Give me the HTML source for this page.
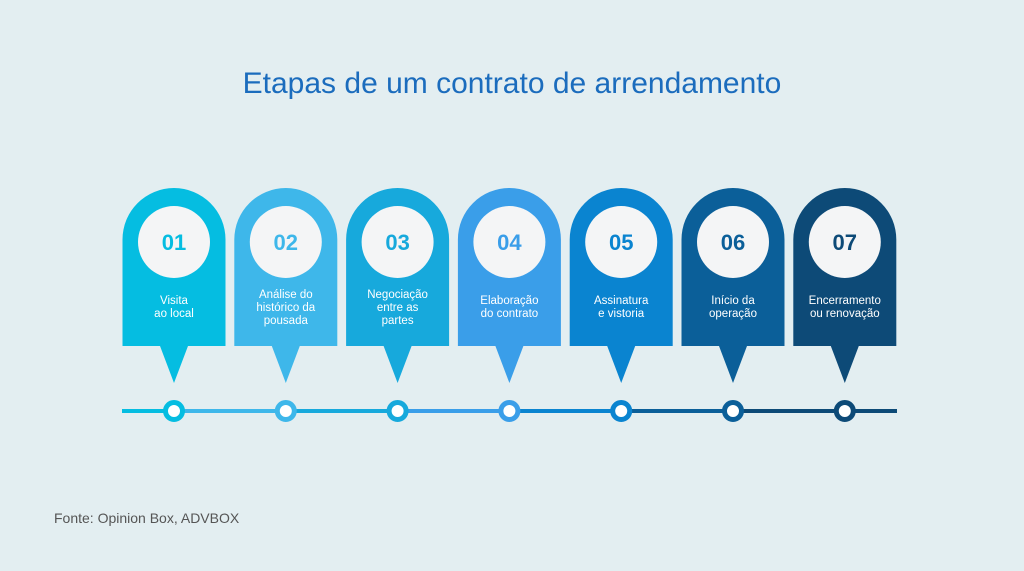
<!DOCTYPE html>
<html><head><meta charset="utf-8"><style>
html,body{margin:0;padding:0;background:#e3eef1;}
body{width:1024px;height:566px;overflow:hidden;font-family:"Liberation Sans",sans-serif;}
</style></head><body>
<svg id="s" width="1024" height="566" viewBox="0 0 1024 566" xmlns="http://www.w3.org/2000/svg">
<rect width="1024" height="566" fill="#e3eef1"/>
<text x="512" y="93" text-anchor="middle" font-size="30" fill="#1b6cbd" font-family="Liberation Sans, sans-serif">Etapas de um contrato de arrendamento</text>
<g id="tl"></g>
<g id="nodes"></g>
<g id="pins"></g>
<text x="54" y="523" font-size="14" fill="#555">Fonte: Opinion Box, ADVBOX</text>
</svg>
<script>
const steps=["01","02","03","04","05","06","07"];
const labels=[["Visita","ao local"],["Análise do","histórico da","pousada"],["Negociação","entre as","partes"],["Elaboração","do contrato"],["Assinatura","e vistoria"],["Início da","operação"],["Encerramento","ou renovação"]];
const colors=["#05bde1","#3eb7ea","#17a9dc","#3a9ee9","#0a84d0","#0b5f99","#0d4a77"];
const NS="http://www.w3.org/2000/svg";
const x0=174,dx=111.8,pinW=103,pinTop=188,pinBot=346,pinTip=383,ly=411;
function mk(t,a,p){const e=document.createElementNS(NS,t);for(const k in a)e.setAttribute(k,a[k]);p.appendChild(e);return e;}
const tl=document.getElementById('tl'),pins=document.getElementById('pins'),nodes=document.getElementById('nodes');
steps.forEach((s,i)=>{
  const cx=x0+i*dx,c=colors[i];
  const xs=i===0?122:cx-dx;
  const seg=mk('line',{x1:xs,y1:ly,x2:cx,y2:ly,stroke:c,'stroke-width':4},tl);
  
  
  if(i===steps.length-1){
    const seg2=mk('line',{x1:cx,y1:ly,x2:897,y2:ly,stroke:c,'stroke-width':4},tl);
    
    
  }
  const g=mk('g',{},pins);
  
  
  const r=pinW/2,l=cx-r,rt=cx+r;
  const p=mk('path',{d:`M${l},${pinBot} L${l},${pinTop+r} A${r},${r} 0 0 1 ${rt},${pinTop+r} L${rt},${pinBot} L${cx+14},${pinBot} L${cx},${pinTip} L${cx-14},${pinBot} Z`,fill:c},g);
  
  
  const ci=mk('circle',{cx:cx,cy:242,r:36,fill:'#f4f5f6'},g);
  
  
  const n=mk('text',{x:cx,y:250,'text-anchor':'middle','font-size':22,'font-weight':'bold',fill:c},g);
  n.textContent=s;
  
  
  const L=labels[i],y1=L.length===3?298:304;
  L.forEach((t,j)=>{
    const tx=mk('text',{x:cx,y:y1+j*13,'text-anchor':'middle','font-size':11.5,fill:'#fff'},g);
    tx.textContent=t;
    
    
  });
  const nd=mk('circle',{cx:cx,cy:ly,r:8.5,fill:'#fff',stroke:c,'stroke-width':5},nodes);
  
  
});
</script>
</body></html>
